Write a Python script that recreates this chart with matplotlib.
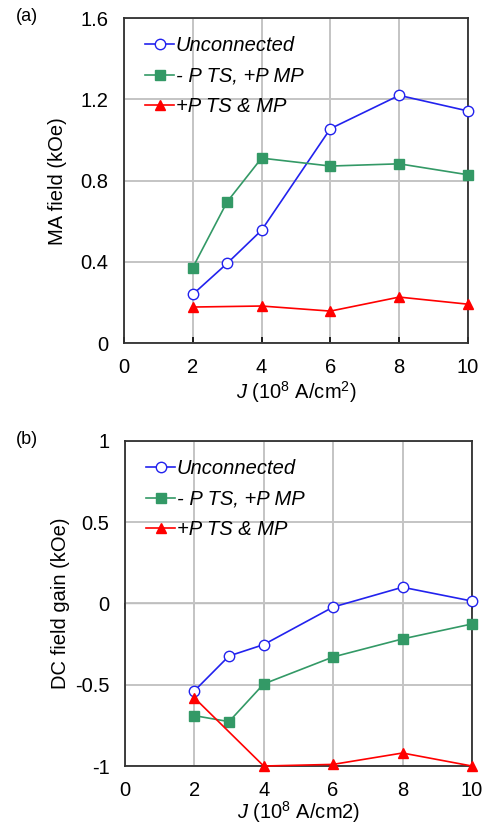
import numpy as np
import matplotlib
matplotlib.use("Agg")
import matplotlib.pyplot as plt

plt.rcParams['font.family'] = ['Liberation Sans', 'DejaVu Sans']
plt.rcParams['mathtext.fontset'] = 'custom'
plt.rcParams['mathtext.rm'] = 'Liberation Sans'
plt.rcParams['mathtext.it'] = 'Liberation Sans:italic'

# data
j_all = [2, 3, 4, 6, 8, 10]
j_red = [2, 4, 6, 8, 10]
labels = ["Unconnected", "- P TS, +P MP", "+P TS & MP"]

ma_unconn = [0.240, 0.393, 0.556, 1.056, 1.220, 1.143]
ma_minus = [0.372, 0.696, 0.911, 0.872, 0.883, 0.829]
ma_plus = [0.178, 0.183, 0.158, 0.227, 0.192]

dc_unconn = [-0.538, -0.323, -0.253, -0.022, 0.100, 0.015]
dc_minus = [-0.690, -0.727, -0.495, -0.329, -0.218, -0.126]
dc_plus = [-0.580, -1.0, -0.99, -0.92, -1.0]

blue = '#2222EE'
green = '#339966'
red = '#FF0000'
fs = 14.5

fig = plt.figure(figsize=(4.86, 8.25), dpi=100)
ax1 = fig.add_axes([0.255, 0.584, 0.708, 0.394])
ax2 = fig.add_axes([0.257, 0.0715, 0.714, 0.394])

def draw(ax, yu, ym, yp):
    ax.plot(j_all, yu, color=blue, lw=1.2, marker='o', ms=7.5, mfc='white',
            mec=blue, mew=1.0, label=labels[0], zorder=4, clip_on=False)
    ax.plot(j_all, ym, color=green, lw=1.2, marker='s', ms=6.5, mfc=green,
            mec=green, label=labels[1], zorder=4, clip_on=False)
    ax.plot(j_red, yp, color=red, lw=1.2, marker='^', ms=7.5, mfc=red,
            mec=red, label=labels[2], zorder=4, clip_on=False)
    ax.set_xlim(0, 10)
    ax.set_xticks([0, 2, 4, 6, 8, 10])
    ax.grid(True, color='#C4C4C4', lw=1.4)
    ax.set_axisbelow(True)
    for s in ax.spines.values():
        s.set_color('#303030')
        s.set_linewidth(1.3)
    ax.tick_params(axis='y', length=0, pad=11, labelsize=fs)
    ax.tick_params(axis='x', direction='in', length=4, width=1.2,
                   pad=11, labelsize=fs)
    leg = ax.legend(loc='upper left', frameon=False, fontsize=fs,
                    handlelength=1.4, handletextpad=0.1, labelspacing=0.57,
                    borderaxespad=0.5, bbox_to_anchor=(0.01, 1.0))
    for t in leg.get_texts():
        t.set_fontstyle('italic')

draw(ax1, ma_unconn, ma_minus, ma_plus)
ax1.set_ylim(0, 1.6)
ax1.set_yticks([0, 0.4, 0.8, 1.2, 1.6])
ax1.set_yticklabels(['0', '0.4', '0.8', '1.2', '1.6'])
ax1.set_ylabel('MA field (kOe)', fontsize=fs, labelpad=10)
ax1.set_xlabel(r'$J$ (10$^8$ A/cm$^2$)', fontsize=fs, labelpad=1)

draw(ax2, dc_unconn, dc_minus, dc_plus)
ax2.set_ylim(-1, 1)
ax2.set_yticks([-1, -0.5, 0, 0.5, 1])
ax2.set_yticklabels(['-1', '-0.5', '0', '0.5', '1'])
ax2.tick_params(axis='x', length=0)
zero = ax2.secondary_xaxis(0.5)
zero.set_xticks([0, 2, 4, 6, 8, 10])
zero.set_xticklabels([])
zero.tick_params(direction='in', length=4, width=1.2, color='#303030')
zero.spines['bottom'].set_color('#202020')
zero.spines['bottom'].set_linewidth(1.3)
ax2.set_ylabel('DC field gain (kOe)', fontsize=fs, labelpad=4)
ax2.set_xlabel(r'$J$ (10$^8$ A/cm2)', fontsize=fs, labelpad=-1)

fig.text(0.033, 0.99, '(a)', fontsize=13, va='top')
fig.text(0.033, 0.478, '(b)', fontsize=13, va='top')

fig.savefig('out.png', dpi=100)
